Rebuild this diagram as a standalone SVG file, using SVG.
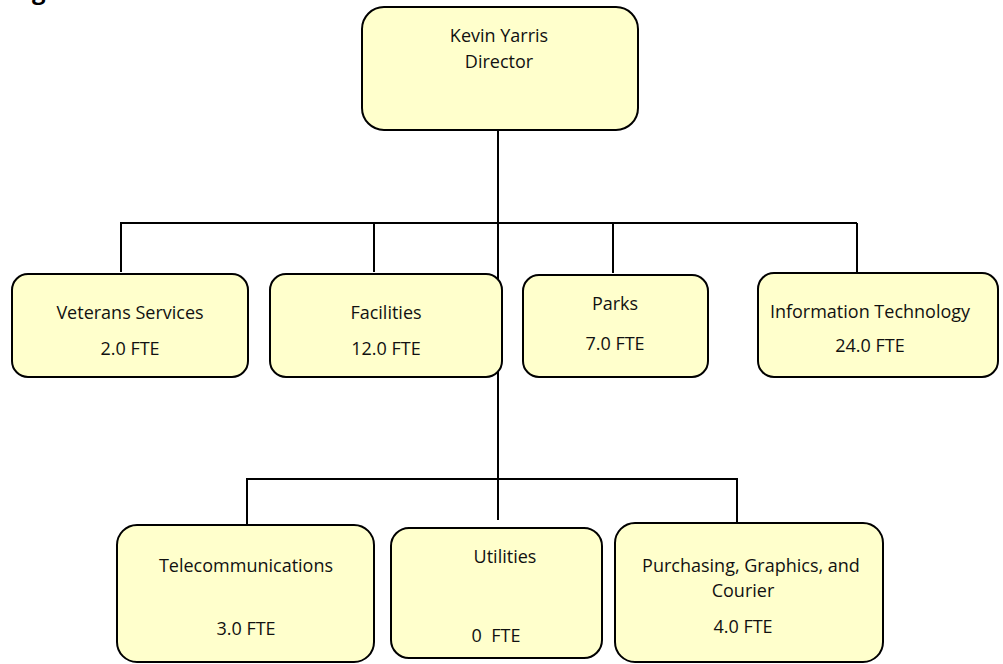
<svg xmlns="http://www.w3.org/2000/svg" width="1003" height="664" viewBox="0 0 1003 664">
  <style>
    .box { fill: #ffffcc; stroke: #000; stroke-width: 2; }
    .lbl { font-family: "Open Sans", Lato, "Liberation Sans", sans-serif; font-size: 18px; fill: #111; text-anchor: middle; }
    .title { font-family: "Open Sans", Lato, "Liberation Sans", sans-serif; font-size: 24px; font-weight: bold; fill: #000; }
    .wire { stroke: #000; stroke-width: 2; fill: none; }
  </style>
  <rect width="1003" height="664" fill="#fff"/>

  <!-- page heading, clipped at the top edge -->
  <text class="title" x="2" y="-1.5">Organization Chart</text>

  <!-- reporting lines -->
  <g id="connectors">
    <path class="wire" d="M498 130 V520"/>
    <path class="wire" d="M120 223 H857"/>
    <path class="wire" d="M121 223 V272 M374 223 V272 M613 223 V273 M857 223 V272"/>
    <path class="wire" d="M246 479 H738"/>
    <path class="wire" d="M247 479 V525 M737 479 V522"/>
  </g>

  <g id="director">
    <rect class="box" x="362" y="7" width="276" height="123" rx="22"/>
    <text class="lbl" x="499" y="42">Kevin Yarris</text>
    <text class="lbl" x="499" y="68">Director</text>
  </g>

  <g id="veterans-services">
    <rect class="box" x="12" y="274" width="236" height="103" rx="16"/>
    <text class="lbl" x="130" y="319">Veterans Services</text>
    <text class="lbl" x="130" y="355">2.0 FTE</text>
  </g>

  <g id="facilities">
    <rect class="box" x="270" y="274" width="232" height="103" rx="16"/>
    <text class="lbl" x="386" y="319">Facilities</text>
    <text class="lbl" x="386" y="355">12.0 FTE</text>
  </g>

  <g id="parks">
    <rect class="box" x="523" y="275" width="185" height="102" rx="16"/>
    <text class="lbl" x="615" y="310">Parks</text>
    <text class="lbl" x="615" y="350">7.0 FTE</text>
  </g>

  <g id="information-technology">
    <rect class="box" x="758" y="273" width="240" height="104" rx="16"/>
    <text class="lbl" x="870" y="318">Information Technology</text>
    <text class="lbl" x="870" y="352">24.0 FTE</text>
  </g>

  <g id="telecommunications">
    <rect class="box" x="117" y="525" width="257" height="137" rx="20"/>
    <text class="lbl" x="246" y="572">Telecommunications</text>
    <text class="lbl" x="246" y="635">3.0 FTE</text>
  </g>

  <g id="utilities">
    <rect class="box" x="391" y="528" width="211" height="130" rx="18"/>
    <text class="lbl" x="505" y="563">Utilities</text>
    <text class="lbl" x="496" y="642" xml:space="preserve">0  FTE</text>
  </g>

  <g id="purchasing">
    <rect class="box" x="615" y="523" width="268" height="139" rx="20"/>
    <text class="lbl" x="751" y="572">Purchasing, Graphics, and</text>
    <text class="lbl" x="743" y="597">Courier</text>
    <text class="lbl" x="743" y="633">4.0 FTE</text>
  </g>
</svg>
